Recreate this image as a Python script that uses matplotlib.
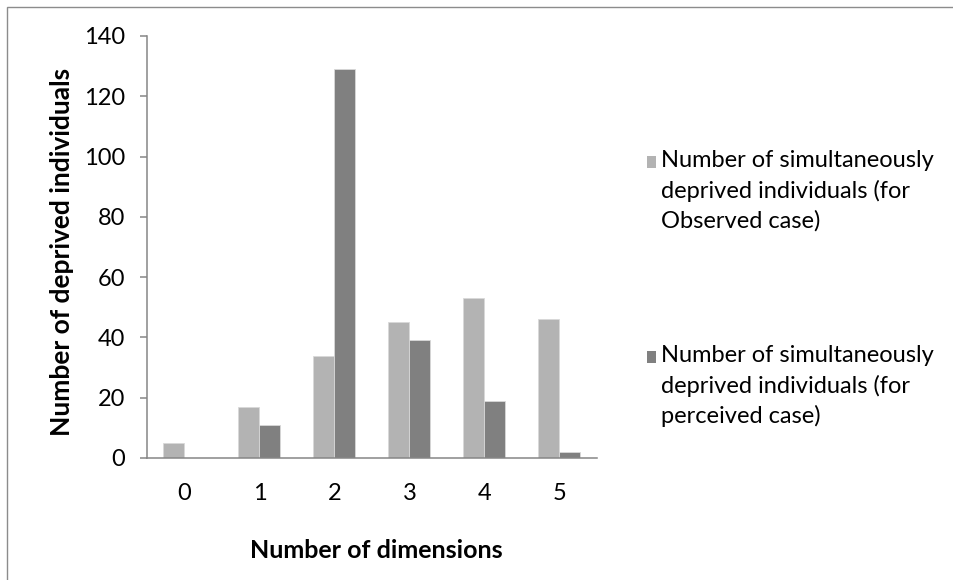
import matplotlib.pyplot as plt
import numpy as np
from matplotlib.patches import Rectangle

# data
dimensions = ['0', '1', '2', '3', '4', '5']
observed = [5, 17, 34, 45, 53, 46]
perceived = [0, 11, 129, 39, 19, 2]
legend_labels = ['Number of simultaneously\ndeprived individuals (for\nObserved case)',
                 'Number of simultaneously\ndeprived individuals (for\nperceived case)']
y_ticks = [0, 20, 40, 60, 80, 100, 120, 140]

light = '#b3b3b3'
dark = '#808080'
axis_col = '#868686'

plt.rcParams['font.family'] = ['Lato', 'DejaVu Sans']

W, H = 954, 580
fig = plt.figure(figsize=(W / 100, H / 100), dpi=100)
ax = fig.add_axes([147 / W, 1 - 458 / H, 450 / W, 422 / H])

x = np.arange(len(dimensions))
bw = 0.28
ax.bar(x - bw / 2, observed, bw, color=light, edgecolor='#d9d9d9', linewidth=0.6)
ax.bar(x + bw / 2, perceived, bw, color=dark, edgecolor='#d9d9d9', linewidth=0.6)

ax.set_xlim(-0.5, 5.5)
ax.set_ylim(0, 140)
ax.set_xticks(x)
ax.set_xticklabels(dimensions)
ax.set_yticks(y_ticks)

for s in ['top', 'right']:
    ax.spines[s].set_visible(False)
for s in ['left', 'bottom']:
    ax.spines[s].set_color(axis_col)
    ax.spines[s].set_linewidth(1.1)

ax.tick_params(axis='y', length=5, width=1.1, color=axis_col, pad=11, labelsize=17)
ax.tick_params(axis='x', length=0, pad=18, labelsize=17)

fig.text(62 / W, 1 - 252 / H, 'Number of deprived individuals', rotation=90,
         ha='center', va='center', fontsize=19, fontweight='bold')
fig.text(376 / W, 1 - 551 / H, 'Number of dimensions',
         ha='center', va='center', fontsize=18, fontweight='bold')

# legend drawn by hand so the keys sit on the first line of each label
for lab, col, ytop in zip(legend_labels, [light, dark], [162, 357]):
    fig.patches.append(Rectangle((647 / W, 1 - (ytop + 6) / H), 9 / W, 12 / H,
                                 transform=fig.transFigure, facecolor=col,
                                 edgecolor='none'))
    fig.text(661 / W, 1 - (ytop - 12) / H, lab, ha='left', va='top',
             fontsize=17, linespacing=1.47)

# outer chart border (cut off at right and bottom)
fig.patches.append(Rectangle((7 / W, -0.05), 1.1, 1 - 7 / H + 0.05,
                             transform=fig.transFigure, facecolor='none',
                             edgecolor='#8c8c8c', linewidth=1.0))

fig.savefig('out.png', dpi=100)
